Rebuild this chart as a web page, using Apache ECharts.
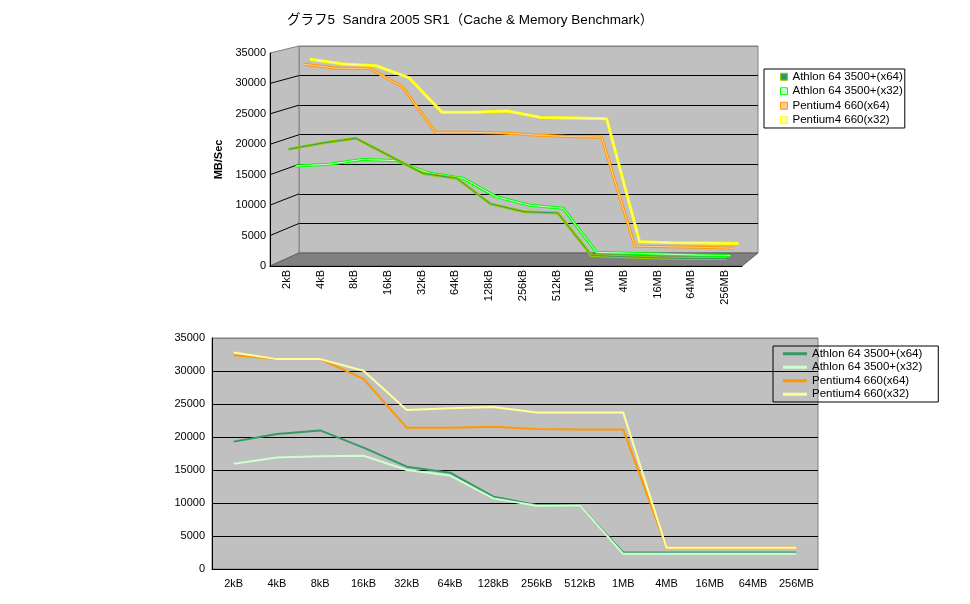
<!DOCTYPE html>
<html>
<head>
<meta charset="utf-8">
<script src="https://cdn.jsdelivr.net/npm/echarts@6/dist/echarts.min.js"></script>
<style>
html, body { margin: 0; padding: 0; background: #fff; }
#chart { width: 970px; height: 604px; }
</style>
</head>
<body>
<div id="chart"></div>
<script>
// categories (block size)
const categories = ['2kB', '4kB', '8kB', '16kB', '32kB', '64kB', '128kB', '256kB', '512kB', '1MB', '4MB', '16MB', '64MB', '256MB'];
const seriesNames = ['Athlon 64 3500+(x64)', 'Athlon 64 3500+(x32)', 'Pentium4 660(x64)', 'Pentium4 660(x32)'];

// upper (3D) chart, MB/Sec
const athlon64Top = [19100, 20100, 20900, 18000, 15100, 14300, 10100, 8800, 8600, 1600, 1400, 1200, 1100, 1100];
const athlon32Top = [15900, 16200, 17000, 16800, 14700, 13900, 10800, 9400, 8900, 1600, 1450, 1300, 1150, 1050];
const pentium64Top = [32500, 31800, 31800, 28700, 21100, 21100, 21000, 20650, 20400, 20300, 2100, 2000, 1900, 1750];
const pentium32Top = [33000, 32200, 31900, 29900, 24100, 24100, 24300, 23200, 23100, 23000, 2300, 2150, 2100, 2000];

// lower chart, MB/Sec
const athlon64 = [19300, 20450, 21000, 18400, 15500, 14600, 10950, 9700, 9600, 2500, 2500, 2500, 2500, 2500];
const athlon32 = [15950, 16900, 17100, 17150, 15000, 14150, 10700, 9600, 9600, 2300, 2300, 2300, 2300, 2300];
const pentium64 = [32400, 31800, 31800, 28800, 21400, 21400, 21550, 21200, 21150, 21150, 3230, 3230, 3230, 3230];
const pentium32 = [32800, 31800, 31800, 30050, 24100, 24350, 24550, 23700, 23700, 23700, 3230, 3230, 3230, 3230];

const yMax = 35000, yStep = 5000;

const FONT = '"Liberation Sans", "Noto Sans CJK JP", sans-serif';
const FRONT = { left: 270, top: 53, width: 472, height: 213 };
const BACK = { left: 299, top: 46, width: 459, height: 207 };
const depth = [0.06, 0.31, 0.56, 0.81];
const lerp = (a, b, t) => a + (b - a) * t;
const layer = t => ({
  left: lerp(FRONT.left, BACK.left, t), top: lerp(FRONT.top, BACK.top, t),
  width: lerp(FRONT.width, BACK.width, t), height: lerp(FRONT.height, BACK.height, t)
});

const topData = [athlon64Top, athlon32Top, pentium64Top, pentium32Top];
const edgeColors = ['#99cc00', '#00ff00', '#ff9900', '#ffff00'];
const faceColors = ['#339966', '#ccffcc', '#ffcc99', '#ffff99'];
const lowData = [athlon64, athlon32, pentium64, pentium32];
const lowColors = ['#339966', '#ccffcc', '#ff9900', '#ffff99'];
const splitColors = ['#808080', '#000', '#000', '#000', '#000', '#000', '#000', '#808080'];

const chart = echarts.init(document.getElementById('chart'));

const grid = [
  Object.assign({}, FRONT),
  Object.assign({ show: true, backgroundColor: '#c0c0c0', borderColor: '#808080', borderWidth: 1 }, BACK)
].concat(depth.map(layer)).concat([
  { left: 212, top: 338, width: 606, height: 231, show: true, backgroundColor: '#c0c0c0', borderColor: '#808080', borderWidth: 1 }
]);

const hiddenX = i => ({ gridIndex: i, type: 'category', data: categories, show: false });
const hiddenY = i => ({ gridIndex: i, type: 'value', min: 0, max: yMax, interval: yStep, show: false });
const label = { fontFamily: FONT, fontSize: 11, color: '#000' };
const plain = v => String(v);

const xAxis = [
  {
    gridIndex: 0, type: 'category', data: categories, z: 5,
    axisLine: { lineStyle: { color: '#000' } },
    axisTick: { length: 4, lineStyle: { color: '#000' } },
    axisLabel: Object.assign({ rotate: 90, margin: 4, interval: 0 }, label)
  },
  hiddenX(1), hiddenX(2), hiddenX(3), hiddenX(4), hiddenX(5),
  {
    gridIndex: 6, type: 'category', data: categories,
    axisLine: { lineStyle: { color: '#000' } },
    axisTick: { inside: true, length: 4, lineStyle: { color: '#000' } },
    axisLabel: Object.assign({ margin: 9, interval: 0 }, label)
  }
];
const yAxis = [
  {
    gridIndex: 0, type: 'value', min: 0, max: yMax, interval: yStep, z: 5,
    axisLine: { show: true, lineStyle: { color: '#000' } },
    axisTick: { show: false }, splitLine: { show: false },
    axisLabel: Object.assign({ margin: 4, formatter: plain }, label),
    name: 'MB/Sec', nameLocation: 'middle', nameGap: 46,
    nameTextStyle: { fontFamily: FONT, fontSize: 11, fontWeight: 'bold', color: '#000' }
  },
  {
    gridIndex: 1, type: 'value', min: 0, max: yMax, interval: yStep,
    axisLine: { show: false }, axisTick: { show: false }, axisLabel: { show: false },
    splitLine: { show: true, lineStyle: { color: splitColors, width: 1 } }
  },
  hiddenY(2), hiddenY(3), hiddenY(4), hiddenY(5),
  {
    gridIndex: 6, type: 'value', min: 0, max: yMax, interval: yStep,
    axisLine: { show: true, lineStyle: { color: '#000' } },
    axisTick: { show: false },
    axisLabel: Object.assign({ margin: 7, formatter: plain }, label),
    splitLine: { show: true, lineStyle: { color: splitColors, width: 1 } }
  }
];

const series = [];
topData.forEach((d, i) => {
  series.push({
    name: seriesNames[i], type: 'line', xAxisIndex: 2 + i, yAxisIndex: 2 + i,
    data: d, symbol: 'none', z: 10 - 2 * i,
    lineStyle: { color: edgeColors[i], width: 3 }
  });
  series.push({
    name: seriesNames[i] + ' face', type: 'line', xAxisIndex: 2 + i, yAxisIndex: 2 + i,
    data: d, symbol: 'none', z: 11 - 2 * i,
    lineStyle: { color: faceColors[i], width: 1 }
  });
});
lowData.forEach((d, i) => {
  series.push({
    name: seriesNames[i], type: 'line', xAxisIndex: 6, yAxisIndex: 6,
    data: d, symbol: 'none', z: 3 + i,
    lineStyle: { color: lowColors[i], width: 2 }
  });
});

const legendText = { fontFamily: FONT, fontSize: 11.5, color: '#000' };

chart.setOption({
  animation: false,
  title: {
    text: 'グラフ5  Sandra 2005 SR1（Cache & Memory Benchmark）',
    left: 282, top: 9,
    textStyle: { fontFamily: FONT, fontSize: 13.5, fontWeight: 'normal', color: '#000' }
  },
  grid, xAxis, yAxis, series,
  legend: [
    {
      orient: 'vertical', left: 764, top: 69, selectedMode: false,
      icon: 'rect', itemWidth: 7, itemHeight: 7, itemGap: 3,
      borderColor: '#000', borderWidth: 1, padding: [2, 2, 2, 16],
      textStyle: legendText,
      data: seriesNames.map((n, i) => ({
        name: n, itemStyle: { color: faceColors[i], borderColor: edgeColors[i], borderWidth: 1 }
      }))
    },
    {
      orient: 'vertical', left: 773, top: 346, selectedMode: false,
      icon: 'rect', itemWidth: 24, itemHeight: 3, itemGap: 2,
      borderColor: '#000', borderWidth: 1, padding: [2, 16, 2, 10],
      textStyle: legendText,
      data: seriesNames.map((n, i) => ({
        name: n, itemStyle: { color: lowColors[i], borderWidth: 0 }
      }))
    }
  ]
});

// side wall and floor of the 3D box, placed from the front and back axes
const fy = v => chart.convertToPixel({ yAxisIndex: 0 }, v);
const by = v => chart.convertToPixel({ yAxisIndex: 1 }, v);
const fL = FRONT.left, bL = BACK.left, bR = BACK.left + BACK.width, fR = FRONT.left + FRONT.width;
const graphic = [
  {
    type: 'polygon', z: 1,
    shape: { points: [[fL, fy(yMax)], [bL, by(yMax)], [bL, by(0)], [fL, fy(0)]] },
    style: { fill: '#c0c0c0', stroke: '#808080', lineWidth: 1 }
  },
  {
    type: 'polygon', z: 1,
    shape: { points: [[fL, fy(0)], [bL, by(0)], [bR, by(0)], [fR, fy(0)]] },
    style: { fill: '#808080', stroke: '#606060', lineWidth: 1 }
  }
];
for (let v = yStep; v < yMax; v += yStep) {
  graphic.push({
    type: 'line', z: 1,
    shape: { x1: fL, y1: fy(v), x2: bL, y2: by(v) },
    style: { stroke: '#000', lineWidth: 1 }
  });
}
chart.setOption({ graphic });
</script>
</body>
</html>
